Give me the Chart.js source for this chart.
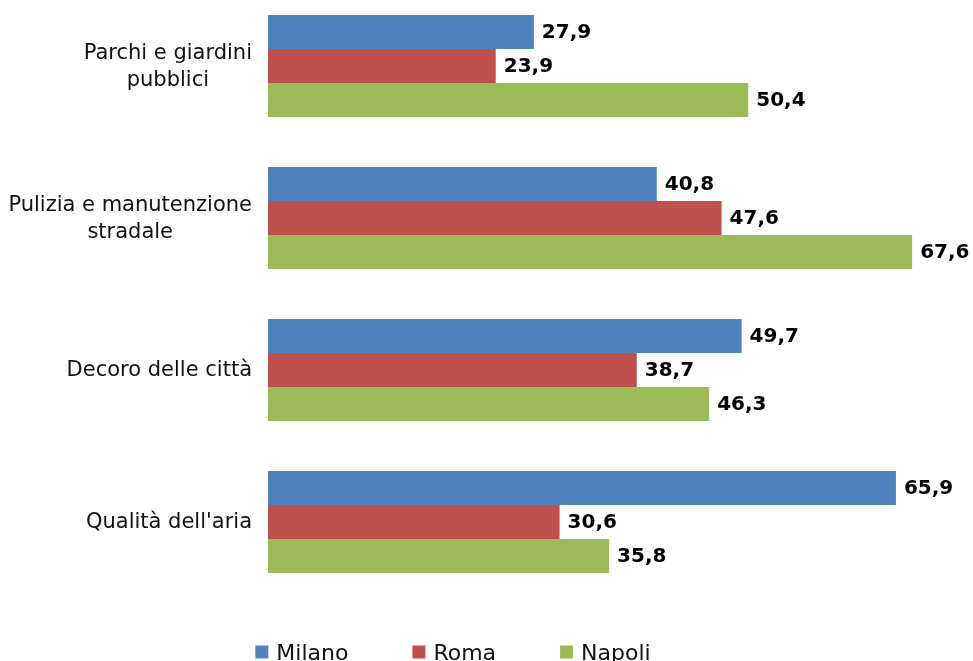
<!DOCTYPE html>
<html>
<head>
<meta charset="utf-8">
<script src="https://cdn.jsdelivr.net/npm/chart.js@4"></script>
<style>
  html, body { margin: 0; padding: 0; background: #fff; overflow: hidden; }
  #wrap { position: relative; width: 973px; height: 661px; }
  #chart { position: absolute; left: 0; top: -10px; }
</style>
</head>
<body>
<div id="wrap"><canvas id="chart" width="973" height="671"></canvas></div>
<script>
// --- DATA ---
const categories = [
  ['Parchi e giardini', 'pubblici'],
  ['Pulizia e manutenzione', 'stradale'],
  ['Decoro delle città'],
  ["Qualità dell'aria"]
];
const seriesNames = ['Milano', 'Roma', 'Napoli'];
const milano = [27.9, 40.8, 49.7, 65.9];
const roma = [23.9, 47.6, 38.7, 30.6];
const napoli = [50.4, 67.6, 46.3, 35.8];
const colors = ['#4F81BD', '#C0504D', '#9BBB59'];

const FONT = '"DejaVu Sans", Verdana, sans-serif';

// value labels at the end of each bar
const valueLabels = {
  id: 'valueLabels',
  afterDatasetsDraw(chart) {
    const ctx = chart.ctx;
    ctx.save();
    ctx.font = 'bold 20px ' + FONT;
    ctx.fillStyle = '#000';
    ctx.textAlign = 'left';
    ctx.textBaseline = 'middle';
    chart.data.datasets.forEach((ds, di) => {
      chart.getDatasetMeta(di).data.forEach((bar, i) => {
        const txt = ds.data[i].toFixed(1).replace('.', ',');
        ctx.fillText(txt, bar.x + 8, bar.y + 1);
      });
    });
    ctx.restore();
  }
};

// category labels: block right-aligned, lines centered inside the block
const categoryLabels = {
  id: 'categoryLabels',
  afterDraw(chart) {
    const ctx = chart.ctx;
    const yScale = chart.scales.y;
    const rightEdge = chart.chartArea.left - 16;
    const lineH = 27;
    ctx.save();
    ctx.font = '21px ' + FONT;
    ctx.fillStyle = '#111';
    ctx.textAlign = 'center';
    ctx.textBaseline = 'middle';
    categories.forEach((lines, i) => {
      const y = yScale.getPixelForValue(i);
      const blockW = Math.max(...lines.map(l => ctx.measureText(l).width));
      const cx = rightEdge - blockW / 2;
      lines.forEach((l, j) => {
        ctx.fillText(l, cx, y + 1 + (j - (lines.length - 1) / 2) * lineH);
      });
    });
    ctx.restore();
  }
};

// legend along the bottom
const bottomLegend = {
  id: 'bottomLegend',
  afterDraw(chart) {
    const ctx = chart.ctx;
    const box = 13, textGap = 8, itemGap = 64, centerX = 453;
    const y = chart.height - 9;
    ctx.save();
    ctx.font = '22px ' + FONT;
    ctx.textBaseline = 'middle';
    ctx.textAlign = 'left';
    const widths = chart.data.datasets.map(ds => box + textGap + ctx.measureText(ds.label).width);
    const total = widths.reduce((a, b) => a + b, 0) + itemGap * (widths.length - 1);
    let x = centerX - total / 2;
    chart.data.datasets.forEach((ds, i) => {
      ctx.fillStyle = ds.backgroundColor;
      ctx.fillRect(x, y - box / 2, box, box);
      ctx.fillStyle = '#111';
      ctx.fillText(ds.label, x + box + textGap, y + 2);
      x += widths[i] + itemGap;
    });
    ctx.restore();
  }
};

const ctx = document.getElementById('chart').getContext('2d');
new Chart(ctx, {
  type: 'bar',
  data: {
    labels: categories,
    datasets: [milano, roma, napoli].map((d, i) => ({
      label: seriesNames[i],
      data: d,
      backgroundColor: colors[i],
      borderWidth: 0,
      categoryPercentage: 0.67,
      barPercentage: 1.0
    }))
  },
  options: {
    indexAxis: 'y',
    responsive: false,
    animation: false,
    layout: { padding: { left: 268, right: 38, top: 0, bottom: 63 } },
    scales: {
      x: { display: false, min: 0, max: 70 },
      y: { display: false }
    },
    plugins: {
      legend: { display: false },
      tooltip: { enabled: false }
    }
  },
  plugins: [valueLabels, categoryLabels, bottomLegend]
});
</script>
</body>
</html>
